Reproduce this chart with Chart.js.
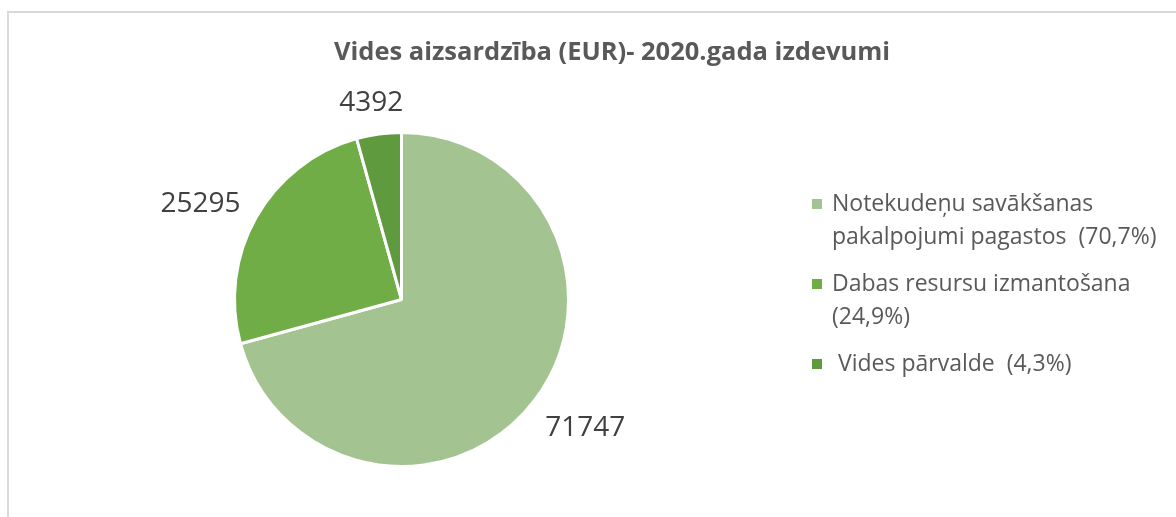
<!DOCTYPE html>
<html>
<head>
<meta charset="utf-8">
<script src="https://cdn.jsdelivr.net/npm/chart.js@4.4.1/dist/chart.umd.min.js"></script>
<style>
  html, body { margin: 0; padding: 0; background: #fff; }
  #wrap { width: 1176px; height: 517px; }
</style>
</head>
<body>
<div id="wrap"><canvas id="pie" width="1176" height="517"></canvas></div>
<script>
const chartTitle = 'Vides aizsardzība (EUR)- 2020.gada izdevumi';
const categories = ['Notekudeņu savākšanas pakalpojumi pagastos', 'Dabas resursu izmantošana', 'Vides pārvalde'];
const values = [71747, 25295, 4392];
const legendLines = [
    ['Notekudeņu savākšanas', 'pakalpojumi pagastos  (70,7%)'],
    ['Dabas resursu izmantošana', '(24,9%)'],
    [' Vides pārvalde  (4,3%)']
];

const sliceColors = ['#a3c490', '#70ad47', '#5f9a3f'];
const FONT = '"Open Sans", "Noto Sans", sans-serif';

// frame, title, outside value labels and the wrapped legend
const decorations = {
    id: 'decorations',
    beforeDraw(chart) {
        const ctx = chart.ctx;
        ctx.save();
        ctx.fillStyle = '#fff';
        ctx.fillRect(0, 0, chart.width, chart.height);
        ctx.strokeStyle = '#d9d9d9';
        ctx.lineWidth = 2;
        ctx.strokeRect(8, 12, 1400, 800);
        ctx.restore();
    },
    afterDraw(chart) {
        const ctx = chart.ctx;
        ctx.save();

        ctx.fillStyle = '#595959';
        ctx.font = 'bold 25.5px ' + FONT;
        ctx.textAlign = 'center';
        ctx.textBaseline = 'middle';
        ctx.fillText(chartTitle, 612, 53);

        // value labels just outside each slice
        ctx.font = '28px ' + FONT;
        ctx.fillStyle = '#404040';
        const meta = chart.getDatasetMeta(0);
        meta.data.forEach((arc, i) => {
            const p = arc.getProps(['x', 'y', 'startAngle', 'endAngle', 'outerRadius']);
            const mid = (p.startAngle + p.endAngle) / 2;
            const txt = String(chart.data.datasets[0].data[i]);
            const w = ctx.measureText(txt).width;
            const cos = Math.cos(mid), sin = Math.sin(mid);
            const r = p.outerRadius + 24;
            const x = p.x + cos * r + cos * w / 2;
            const y = p.y + sin * r + sin * 12 + 5;
            ctx.fillText(txt, x, y);
        });

        // legend
        ctx.textAlign = 'left';
        ctx.font = '23px ' + FONT;
        let y = 204;
        legendLines.forEach((lines, i) => {
            ctx.fillStyle = sliceColors[i];
            ctx.fillRect(812, y - 5, 10, 10);
            ctx.fillStyle = '#595959';
            lines.forEach((line) => {
                ctx.fillText(line, 832, y);
                y += 33;
            });
            y += 14;
        });
        ctx.restore();
    }
};

new Chart(document.getElementById('pie'), {
    type: 'pie',
    data: {
        labels: categories,
        datasets: [{
            data: values,
            backgroundColor: sliceColors,
            borderColor: '#ffffff',
            borderWidth: 3
        }]
    },
    options: {
        responsive: false,
        animation: false,
        devicePixelRatio: 1,
        layout: { padding: { left: 233, right: 606, top: 131, bottom: 49 } },
        plugins: {
            legend: { display: false },
            title: { display: false },
            tooltip: { enabled: false }
        }
    },
    plugins: [decorations]
});
</script>
</body>
</html>
